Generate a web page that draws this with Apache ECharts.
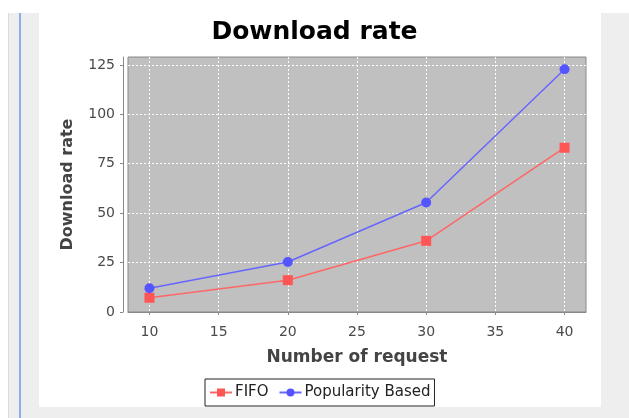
<!DOCTYPE html>
<html>
<head>
<meta charset="utf-8">
<script src="https://cdn.jsdelivr.net/npm/echarts@6/dist/echarts.min.js"></script>
<style>
  html, body { margin: 0; padding: 0; background: #ffffff; width: 629px; height: 418px; overflow: hidden; }
  #frame { position: absolute; left: 8px; top: 13px; width: 621px; height: 405px; background: #eeeeee; border-left: 1px solid #dcdcdc; box-sizing: border-box; }
  #bar { position: absolute; left: 19px; top: 13px; width: 2px; height: 405px; background: #8aaeea; }
  #panel { position: absolute; left: 39px; top: 13px; width: 562px; height: 394px; background: #ffffff; }
  #chart { position: absolute; left: 0; top: 0; width: 629px; height: 418px; }
</style>
</head>
<body>
<div id="frame"></div>
<div id="bar"></div>
<div id="panel"></div>
<div id="chart"></div>
<script>
const requests = [10, 20, 30, 40];
const fifoRate = [7.2, 16.1, 36.0, 83.1];
const popularityRate = [12.0, 25.3, 55.4, 122.8];
const xTicks = [10, 15, 20, 25, 30, 35, 40];
const yTicks = [0, 25, 50, 75, 100, 125];
const seriesNames = ['FIFO', 'Popularity Based'];

const pair = (xs, ys) => xs.map((x, i) => [x, ys[i]]);

const chart = echarts.init(document.getElementById('chart'), null, { renderer: 'canvas' });
const axisFont = 'DejaVu Sans';
chart.setOption({
  animation: false,
  backgroundColor: 'transparent',
  title: {
    text: 'Download rate',
    left: 'center',
    top: 15,
    textStyle: { fontFamily: axisFont, fontWeight: 'bold', fontSize: 25, color: '#000' }
  },
  grid: {
    left: 128, top: 57, right: 43, bottom: 106,
    show: true, backgroundColor: '#c0c0c0', borderColor: '#888888', borderWidth: 1
  },
  legend: {
    data: seriesNames,
    left: 205, top: 379,
    borderColor: '#222', borderWidth: 1, padding: [6, 4, 6, 4],
    itemWidth: 22, itemHeight: 10, itemGap: 10,
    textStyle: { fontFamily: axisFont, fontSize: 15, color: '#222', padding: [0, 0, 0, -2] }
  },
  xAxis: {
    type: 'value', min: 8.45, max: 41.55, offset: 3,
    name: 'Number of request', nameLocation: 'middle', nameGap: 34,
    nameTextStyle: { fontFamily: axisFont, fontWeight: 'bold', fontSize: 17, color: '#444' },
    axisLine: { show: true, lineStyle: { color: '#888', width: 1 } },
    axisTick: { show: true, customValues: xTicks, length: 3, lineStyle: { color: '#888' } },
    axisLabel: { customValues: xTicks, margin: 10, fontFamily: axisFont, fontSize: 14, color: '#4a4a4a' },
    splitLine: { show: true, lineStyle: { color: '#ffffff', width: 1, type: [2, 2] } }
  },
  yAxis: {
    type: 'value', min: 0, max: 129, offset: 5,
    name: 'Download rate', nameLocation: 'middle', nameGap: 47, nameRotate: 90,
    nameTextStyle: { fontFamily: axisFont, fontWeight: 'bold', fontSize: 16, color: '#444' },
    axisLine: { show: true, lineStyle: { color: '#888', width: 1 } },
    axisTick: { show: true, customValues: yTicks, length: 3, lineStyle: { color: '#888' } },
    axisLabel: { customValues: yTicks, margin: 8, fontFamily: axisFont, fontSize: 14, color: '#4a4a4a' },
    splitLine: { show: true, lineStyle: { color: '#ffffff', width: 1, type: [2, 2] } }
  },
  series: [
    {
      name: seriesNames[0], type: 'line', data: pair(requests, fifoRate),
      symbol: 'rect', symbolSize: 10,
      itemStyle: { color: '#ff5555' },
      lineStyle: { color: '#ff6666', width: 1.5 }
    },
    {
      name: seriesNames[1], type: 'line', data: pair(requests, popularityRate),
      symbol: 'circle', symbolSize: 10,
      itemStyle: { color: '#5555ff' },
      lineStyle: { color: '#6666ff', width: 1.5 }
    }
  ]
});
</script>
</body>
</html>
